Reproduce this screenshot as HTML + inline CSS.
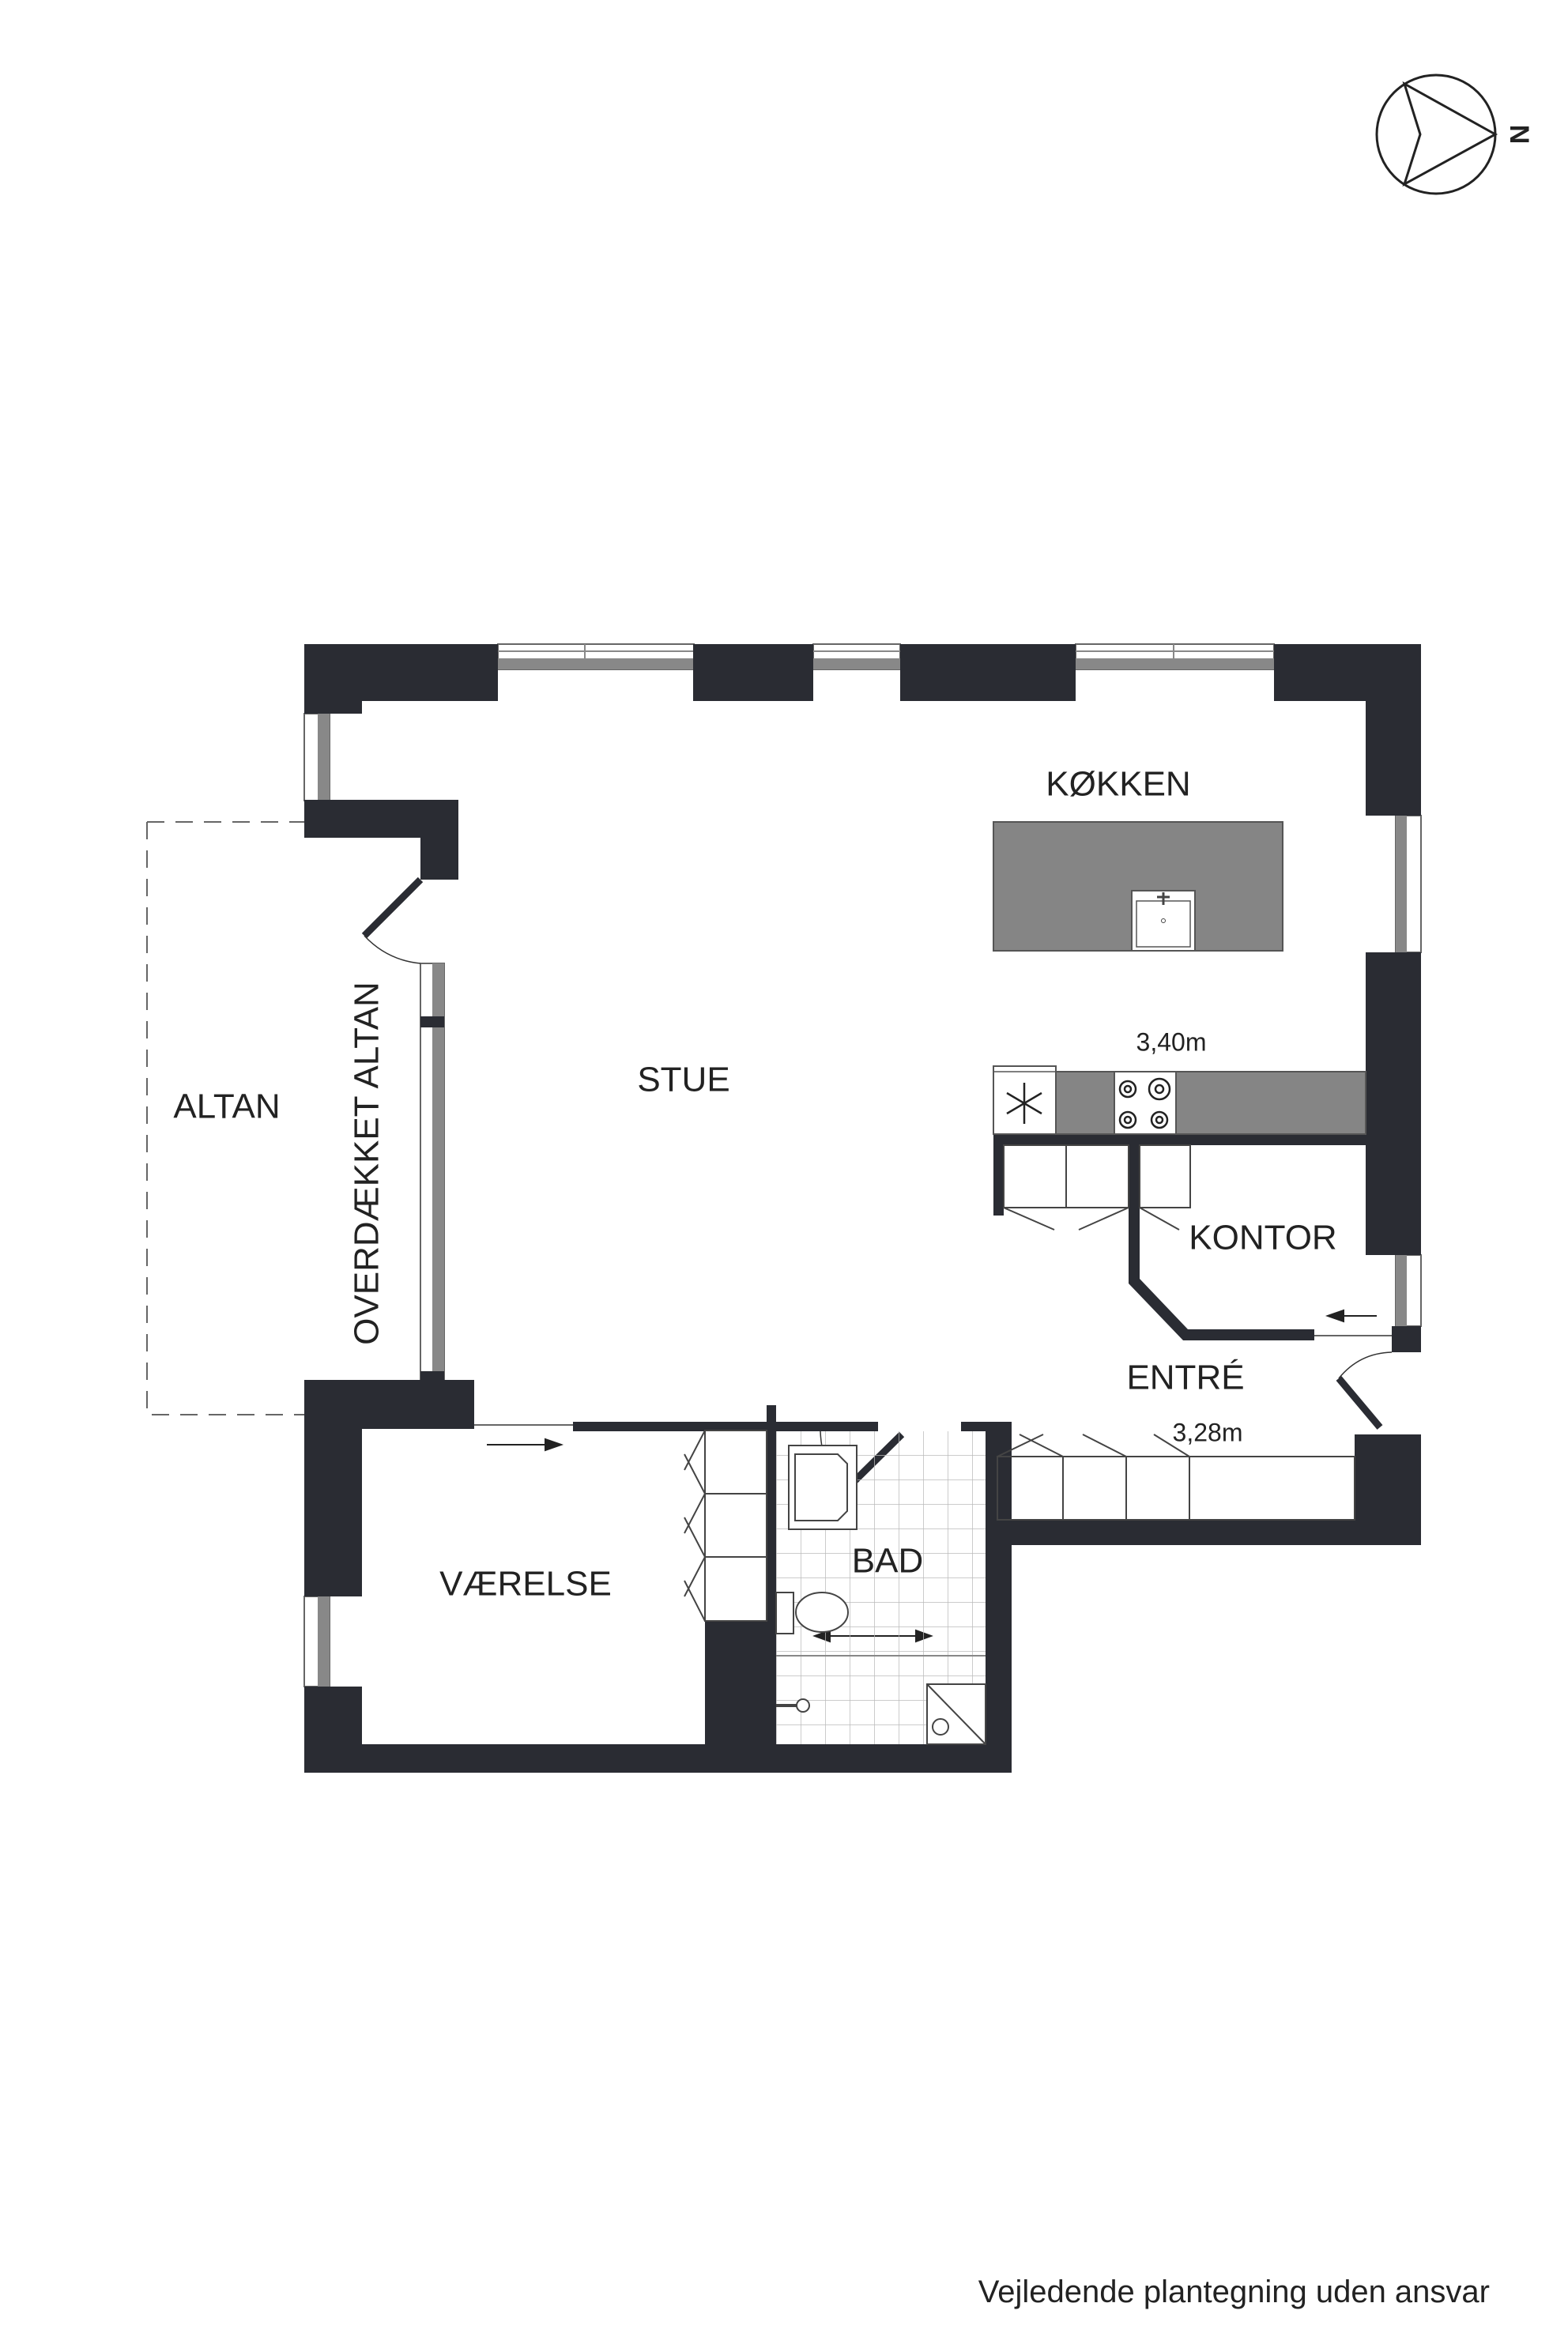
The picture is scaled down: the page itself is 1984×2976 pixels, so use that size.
<!DOCTYPE html>
<html><head><meta charset="utf-8"><style>
html,body{margin:0;padding:0;background:#fff;}
svg{display:block;}
text{font-family:"Liberation Sans","DejaVu Sans",sans-serif;fill:#222;}
</style></head><body>
<svg width="1984" height="2976" viewBox="0 0 1984 2976" xmlns="http://www.w3.org/2000/svg">
<defs>
<pattern id="tile" x="982" y="1810" width="31" height="31" patternUnits="userSpaceOnUse">
<path d="M0 0H31M0 0V31" stroke="#bbb" stroke-width="1.5" fill="none"/>
</pattern>
</defs>
<!-- compass -->
<circle cx="1817" cy="170" r="75" fill="none" stroke="#222" stroke-width="3"/>
<path d="M1777 106 L1892 170 L1777 233 L1797 170 Z" fill="none" stroke="#222" stroke-width="3"/>
<text x="1920" y="170" font-size="34" font-weight="bold" transform="rotate(90 1920 170)" text-anchor="middle" dominant-baseline="middle">N</text>

<!-- balcony dashed -->
<path d="M186 1040 H385 M186 1040 V1790 H385" fill="none" stroke="#666" stroke-width="2" stroke-dasharray="22 14"/>

<!-- windows (top) -->
<g fill="#fff" stroke="#666" stroke-width="2">
<rect x="630" y="815" width="248" height="32"/>
<rect x="1029" y="815" width="110" height="32"/>
<rect x="1361" y="815" width="251" height="32"/>
</g>
<g fill="#888"><rect x="630" y="833" width="248" height="14"/><rect x="1029" y="833" width="110" height="14"/><rect x="1361" y="833" width="251" height="14"/></g>
<g stroke="#888" stroke-width="2"><line x1="740" y1="815" x2="740" y2="833"/><line x1="1485" y1="815" x2="1485" y2="833"/><line x1="630" y1="824" x2="1612" y2="824"/></g>
<!-- side windows -->
<g fill="#fff" stroke="#666" stroke-width="2">
<rect x="385" y="903" width="32" height="110"/>
<rect x="1766" y="1032" width="32" height="173"/>
<rect x="1766" y="1588" width="32" height="90"/>
<rect x="385" y="2020" width="32" height="114"/>
<rect x="532" y="1219" width="30" height="527"/>
</g>
<g fill="#888">
<rect x="402" y="903" width="15" height="110"/>
<rect x="1766" y="1032" width="14" height="173"/>
<rect x="1766" y="1588" width="14" height="90"/>
<rect x="402" y="2020" width="15" height="114"/>
<rect x="547" y="1219" width="15" height="527"/>
</g>

<!-- walls -->
<g fill="#2a2c33">
<rect x="385" y="815" width="245" height="72"/>
<rect x="385" y="815" width="73" height="88"/>
<rect x="877" y="815" width="152" height="72"/>
<rect x="1139" y="815" width="222" height="72"/>
<rect x="1612" y="815" width="186" height="72"/>
<rect x="1728" y="815" width="70" height="217"/>
<rect x="1728" y="1205" width="70" height="383"/>
<rect x="1761" y="1678" width="37" height="33"/>
<rect x="1714" y="1815" width="84" height="140"/>
<rect x="1262" y="1923" width="536" height="32"/>
<rect x="1247" y="1799" width="33" height="444"/>
<rect x="385" y="2207" width="895" height="36"/>
<rect x="385" y="1746" width="73" height="274"/>
<rect x="385" y="2134" width="73" height="109"/>
<rect x="385" y="1746" width="215" height="62"/>
<rect x="532" y="1735" width="30" height="20"/>
<rect x="385" y="1012" width="195" height="48"/>
<rect x="532" y="1012" width="48" height="101"/>
<rect x="532" y="1286" width="30" height="14"/>
<rect x="725" y="1799" width="386" height="12"/>
<rect x="970" y="1778" width="12" height="465"/>
<rect x="1216" y="1799" width="46" height="12"/>
<rect x="892" y="2051" width="78" height="192"/>
<!-- kitchen -->
<rect x="1257" y="1435" width="471" height="14"/>
<rect x="1257" y="1435" width="13" height="103"/>
<path d="M1428 1442 H1442 V1618 L1503 1682 H1663 V1696 H1497 L1428 1624 Z"/>
</g>

<!-- doors -->
<g stroke="#2a2c33" stroke-width="9" stroke-linecap="butt">
<line x1="532" y1="1113" x2="461" y2="1184"/>
<line x1="1694" y1="1744" x2="1746" y2="1806"/>
<line x1="1141" y1="1815" x2="1069" y2="1886"/>
</g>
<g fill="none" stroke="#333" stroke-width="1.5">
<path d="M461 1184 Q490 1215 532 1219"/>
<path d="M1694 1744 Q1720 1712 1761 1711"/>
<path d="M1069 1886 Q1040 1860 1038 1811"/>
<line x1="600" y1="1803" x2="725" y2="1803"/>
<line x1="1663" y1="1690" x2="1761" y2="1690"/>
</g>
<!-- sliding arrows -->
<g stroke="#222" stroke-width="2" fill="#222">
<line x1="616" y1="1828" x2="700" y2="1828"/><path d="M710 1828 L690 1821 L690 1835Z"/>
<line x1="1742" y1="1665" x2="1690" y2="1665"/><path d="M1680 1665 L1700 1658 L1700 1672Z"/>
<line x1="1040" y1="2070" x2="1168" y2="2070"/><path d="M1031 2070 L1050 2063 L1050 2077Z"/><path d="M1178 2070 L1159 2063 L1159 2077Z"/>
</g>

<!-- kitchen island -->
<rect x="1257" y="1040" width="366" height="163" fill="#858585" stroke="#555" stroke-width="2"/>
<rect x="1432" y="1127" width="80" height="76" fill="#fff" stroke="#555" stroke-width="2"/>
<rect x="1438" y="1140" width="68" height="58" fill="none" stroke="#555" stroke-width="1.5"/>
<path d="M1472 1129 V1145 M1464 1135 H1480" stroke="#444" stroke-width="3"/>
<circle cx="1472" cy="1165" r="2.5" fill="none" stroke="#444"/>

<!-- counter -->
<rect x="1257" y="1356" width="471" height="79" fill="#858585" stroke="#555" stroke-width="2"/>
<rect x="1257" y="1349" width="79" height="86" fill="#fff" stroke="#555" stroke-width="2"/>
<line x1="1257" y1="1356" x2="1336" y2="1356" stroke="#555" stroke-width="1.5"/>
<rect x="1410" y="1356" width="78" height="79" fill="#fff" stroke="#555" stroke-width="2"/>
<g stroke="#222" stroke-width="2.5" fill="none">
<path d="M1296 1370 V1422 M1274 1383 L1318 1409 M1274 1409 L1318 1383"/>
<circle cx="1427" cy="1378" r="10"/><circle cx="1427" cy="1378" r="4"/>
<circle cx="1467" cy="1378" r="13"/><circle cx="1467" cy="1378" r="5"/>
<circle cx="1427" cy="1417" r="10"/><circle cx="1427" cy="1417" r="4"/>
<circle cx="1467" cy="1417" r="10"/><circle cx="1467" cy="1417" r="4"/>
</g>
<!-- kitchen cabinets -->
<g fill="none" stroke="#444" stroke-width="2">
<rect x="1270" y="1449" width="158" height="79"/><line x1="1349" y1="1449" x2="1349" y2="1528"/>
<rect x="1442" y="1449" width="64" height="79"/>
<path d="M1270 1528 L1334 1556 M1428 1528 L1365 1556 M1442 1528 L1492 1556"/>
<!-- entry wardrobe -->
<rect x="1262" y="1843" width="452" height="80"/>
<path d="M1345 1843 V1923 M1425 1843 V1923 M1505 1843 V1923"/>
<path d="M1262 1843 L1320 1815 M1345 1843 L1290 1815 M1425 1843 L1370 1815 M1505 1843 L1460 1815"/>
<!-- værelse wardrobe -->
<rect x="892" y="1810" width="78" height="241"/>
<path d="M892 1890 H970 M892 1970 H970"/>
<path d="M892 1810 L866 1860 M892 1890 L866 1840 M892 1890 L866 1940 M892 1970 L866 1920 M892 1970 L866 2020 M892 2051 L866 2000"/>
</g>

<!-- bath -->
<rect x="982" y="1811" width="265" height="396" fill="url(#tile)"/>
<g fill="#fff" stroke="#444" stroke-width="2">
<rect x="998" y="1829" width="86" height="106"/>
<path d="M1006 1840 H1060 L1072 1852 V1912 L1060 1924 H1006 Z"/>
<ellipse cx="1040" cy="2040" rx="33" ry="25"/>
<rect x="982" y="2015" width="22" height="52"/>
<rect x="1173" y="2131" width="74" height="76"/>
</g>
<path d="M1173 2131 L1247 2207" stroke="#444" stroke-width="2"/>
<circle cx="1190" cy="2185" r="10" fill="none" stroke="#444" stroke-width="2"/>
<line x1="982" y1="2095" x2="1247" y2="2095" stroke="#888" stroke-width="2"/>
<circle cx="1016" cy="2158" r="8" fill="#fff" stroke="#444" stroke-width="2"/>
<line x1="982" y1="2158" x2="1008" y2="2158" stroke="#444" stroke-width="4"/>

<!-- labels -->
<g font-size="44" text-anchor="middle" dominant-baseline="middle">
<text x="1415" y="995">KØKKEN</text>
<text x="865" y="1369">STUE</text>
<text x="1598" y="1569">KONTOR</text>
<text x="1500" y="1746">ENTRÉ</text>
<text x="1123" y="1978">BAD</text>
<text x="665" y="2007">VÆRELSE</text>
<text x="287" y="1403">ALTAN</text>
<text x="467" y="1472" transform="rotate(-90 467 1472)">OVERDÆKKET ALTAN</text>
</g>
<g font-size="32" text-anchor="middle" dominant-baseline="middle">
<text x="1482" y="1321">3,40m</text>
<text x="1528" y="1815">3,28m</text>
</g>
<text x="1885" y="2913" font-size="40" text-anchor="end">Vejledende plantegning uden ansvar</text>
</svg>
</body></html>
